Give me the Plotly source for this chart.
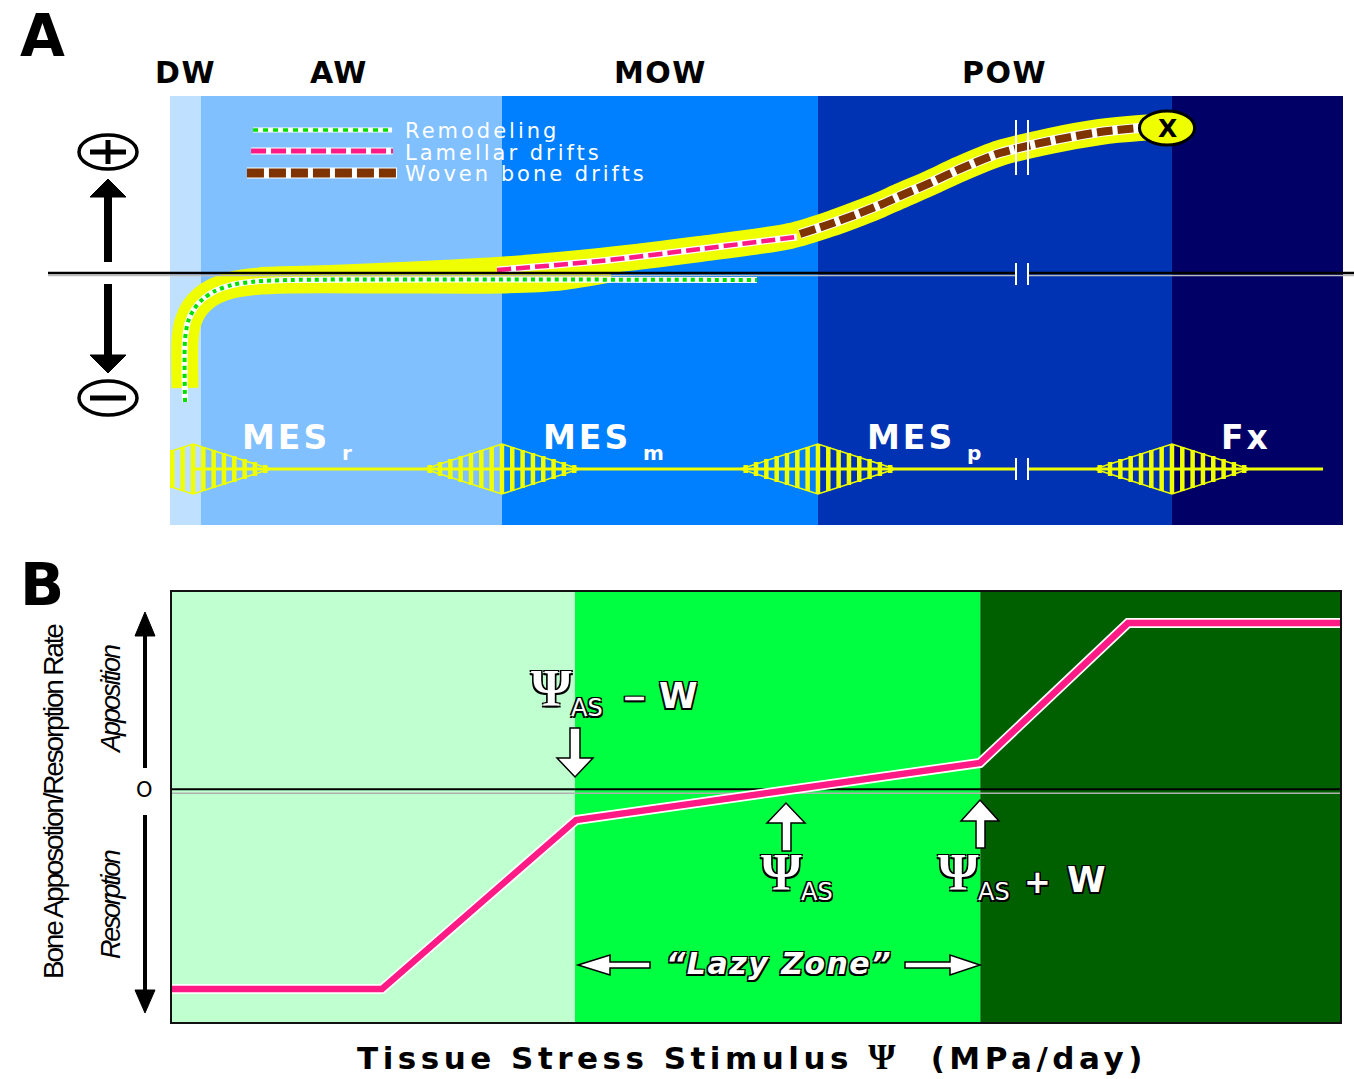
import plotly.graph_objects as go

W, H = 1354, 1079

# ---------------- Panel A: mechanostat windows ----------------
A_ZONE_NAMES = ["DW", "AW", "MOW", "POW"]
A_ZONE_EDGES = [0.0, 2.64, 28.3, 55.24, 85.42, 100.0]
A_ZONE_COLORS = ["#C0E0FF", "#80C0FF", "#0080FF", "#0033B3", "#000066"]

# remodeling branch (net bone change, conservation / disuse)
REMOD_BAND_X = [1.28, 1.28, 1.53, 2.05, 2.81, 3.84, 5.29, 7.25, 10.23, 19.61, 28.13, 33.25, 37.51]
REMOD_BAND_Y = [-1.15, -0.67, -0.49, -0.36, -0.26, -0.18, -0.12, -0.085, -0.07, -0.07, -0.07, -0.04, 0.04]
REMOD_LINE_X = [1.28, 1.28, 1.53, 2.05, 2.81, 3.84, 5.29, 7.25, 10.23, 50.04]
REMOD_LINE_Y = [-1.29, -0.67, -0.49, -0.36, -0.26, -0.18, -0.12, -0.085, -0.07, -0.07]

# modeling-drift branch
DRIFT_X = [7.67, 13.64, 19.61, 27.88, 36.66, 45.18, 52.86, 56.27, 58.82, 60.53, 62.23,
           64.79, 67.35, 70.76, 75.02, 79.28, 82.69, 84.40]
DRIFT_Y = [-0.07, -0.05, -0.02, 0.03, 0.12, 0.24, 0.37, 0.49, 0.60, 0.68, 0.77,
           0.90, 1.04, 1.20, 1.32, 1.41, 1.45, 1.46]
LAMELLAR_X = [27.88, 36.66, 45.18, 53.45]
LAMELLAR_Y = [0.03, 0.12, 0.24, 0.36]
WOVEN_X = [53.71, 56.27, 58.82, 60.53, 62.23, 64.79, 67.35, 70.76, 75.02, 79.28, 82.69]
WOVEN_Y = [0.39, 0.49, 0.60, 0.68, 0.77, 0.90, 1.04, 1.20, 1.32, 1.41, 1.45]
FRACTURE_XY = (85.0, 1.45)

# minimum effective strain bursts
MES_BASE_Y = -1.96
MES_CENTERS = [1.96, 28.3, 55.24, 85.42]
MES_NAMES = ["MES", "MES", "MES", "Fx"]
MES_SUBS = ["r", "m", "p", ""]
BURST_STEP = 0.88
BURST_HALF_HEIGHTS = [0.25, 0.22, 0.19, 0.16, 0.13, 0.10, 0.07, 0.04]
BURST_HALF_WIDTH = 6.6
BREAK_X = (72.04, 73.06)

LEGEND_NAMES = ["Remodeling", "Lamellar drifts", "Woven bone drifts"]

# ---------------- Panel B: apposition / resorption rate ----------------
STIMULUS = [0.0, 17.98, 34.59, 69.18, 81.85, 100.26]
RATE = [-1.199, -1.199, -0.181, 0.163, 1.006, 1.006]
B_ZONE_EDGES = [0.0, 34.5, 69.2, 100.0]
B_ZONE_COLORS = ["#C0FFD0", "#00FF40", "#006000"]

YELLOW = "#F0FF00"
PINK = "#FF1A85"
GREEN = "#00E000"
BROWN = "#7F3300"
OUTLINE = "-1.5px -1.5px 0 #000, 1.5px -1.5px 0 #000, -1.5px 1.5px 0 #000, 1.5px 1.5px 0 #000"


def px(x):
    return x / W


def py(y):
    return 1 - y / H


def poly(points):
    return "M " + " L ".join(f"{px(x):.5f},{py(y):.5f}" for x, y in points) + " Z"


fig = go.Figure()


def line(x, y, color, width, dash="solid", shape="spline", axes=("x", "y")):
    fig.add_trace(go.Scatter(x=x, y=y, mode="lines", xaxis=axes[0], yaxis=axes[1],
                             line=dict(color=color, width=width, dash=dash, shape=shape,
                                       smoothing=0.8),
                             hoverinfo="skip", showlegend=False))


# yellow envelopes
line(REMOD_BAND_X, REMOD_BAND_Y, YELLOW, 27)
line(DRIFT_X, DRIFT_Y, YELLOW, 26)

# MES baseline and bursts
line([MES_CENTERS[0], BREAK_X[0], None, BREAK_X[1], 98.3],
     [MES_BASE_Y, MES_BASE_Y, None, MES_BASE_Y, MES_BASE_Y], YELLOW, 3, shape="linear")
for c in MES_CENTERS:
    bx, by = [], []
    for k, h in enumerate(BURST_HALF_HEIGHTS):
        for s in ([1] if k == 0 else [-1, 1]):
            xo = c + s * k * BURST_STEP
            bx += [xo, xo, None]
            by += [MES_BASE_Y - h, MES_BASE_Y + h, None]
    line(bx, by, YELLOW, 4.5, shape="linear")
    hh = BURST_HALF_HEIGHTS[0]
    line([c - BURST_HALF_WIDTH, c, c + BURST_HALF_WIDTH, c, c - BURST_HALF_WIDTH],
         [MES_BASE_Y, MES_BASE_Y + hh, MES_BASE_Y, MES_BASE_Y - hh, MES_BASE_Y],
         YELLOW, 1.5, shape="linear")

# dashed pathway lines
line(REMOD_LINE_X, REMOD_LINE_Y, "white", 6)
line(REMOD_LINE_X, REMOD_LINE_Y, GREEN, 4, dash="4px,4px")
line(LAMELLAR_X, LAMELLAR_Y, "white", 7)
line(LAMELLAR_X, LAMELLAR_Y, PINK, 4.5, dash="14px,5px")
line(WOVEN_X, WOVEN_Y, "white", 10)
line(WOVEN_X, WOVEN_Y, BROWN, 8, dash="16px,5px")

# legend keys
KEY_Y = [1.43, 1.22, 1.00]
line([7.08, 18.93], [KEY_Y[0]] * 2, "white", 5, shape="linear")
line([7.08, 18.93], [KEY_Y[0]] * 2, GREEN, 3.5, dash="5px,5px", shape="linear")
line([6.91, 19.01], [KEY_Y[1]] * 2, "white", 7, shape="linear")
line([6.91, 19.01], [KEY_Y[1]] * 2, PINK, 5, dash="15px,5px", shape="linear")
line([6.56, 19.35], [KEY_Y[2]] * 2, "white", 11, shape="linear")
line([6.56, 19.35], [KEY_Y[2]] * 2, BROWN, 9, dash="17px,5px", shape="linear")

# panel B rate curve
line(STIMULUS, RATE, "white", 10, shape="linear", axes=("x2", "y2"))
line(STIMULUS, RATE, PINK, 6.5, shape="linear", axes=("x2", "y2"))

shapes = []
for i, col in enumerate(A_ZONE_COLORS):
    shapes.append(dict(type="rect", xref="x", yref="y domain", x0=A_ZONE_EDGES[i],
                       x1=A_ZONE_EDGES[i + 1], y0=0, y1=1, fillcolor=col,
                       line=dict(width=0), layer="below"))
for i, col in enumerate(B_ZONE_COLORS):
    shapes.append(dict(type="rect", xref="x2", yref="y2 domain", x0=B_ZONE_EDGES[i],
                       x1=B_ZONE_EDGES[i + 1], y0=0, y1=1, fillcolor=col,
                       line=dict(width=0), layer="below"))
# panel B zero line
shapes.append(dict(type="line", xref="x2 domain", yref="y2", x0=0, x1=1, y0=-0.02, y1=-0.02,
                   line=dict(color="#B0B0B0", width=1.5), layer="below"))
shapes.append(dict(type="line", xref="x2 domain", yref="y2", x0=0, x1=1, y0=0.005, y1=0.005,
                   line=dict(color="black", width=2), layer="below"))

# panel A zero line with break
for xa, xb in [(48, 1016), (1028, 1354)]:
    shapes.append(dict(type="line", xref="paper", yref="paper", x0=px(xa), x1=px(xb),
                       y0=py(275.5), y1=py(275.5), line=dict(color="#BBBBBB", width=1.5)))
    shapes.append(dict(type="line", xref="paper", yref="paper", x0=px(xa), x1=px(xb),
                       y0=py(273), y1=py(273), line=dict(color="black", width=2.5)))
for bxp in (1016, 1028):
    for y0, y1 in [(120, 175), (263, 285), (458, 480)]:
        shapes.append(dict(type="line", xref="paper", yref="paper", x0=px(bxp), x1=px(bxp),
                           y0=py(y0), y1=py(y1), line=dict(color="white", width=2)))

# fracture marker
fx, fy = FRACTURE_XY
shapes.append(dict(type="circle", xref="x", yref="y", x0=fx - 2.35, x1=fx + 2.35,
                   y0=fy - 0.17, y1=fy + 0.17, fillcolor=YELLOW,
                   line=dict(color="black", width=3)))

# plus / minus symbols with arrows
for cy, sign in [(152, "+"), (398, "-")]:
    shapes.append(dict(type="circle", xref="paper", yref="paper", x0=px(79), x1=px(137),
                       y0=py(cy + 17), y1=py(cy - 17), line=dict(color="black", width=3.5)))
    shapes.append(dict(type="line", xref="paper", yref="paper", x0=px(90), x1=px(126),
                       y0=py(cy), y1=py(cy), line=dict(color="black", width=5)))
    if sign == "+":
        shapes.append(dict(type="line", xref="paper", yref="paper", x0=px(108), x1=px(108),
                           y0=py(cy - 12), y1=py(cy + 12), line=dict(color="black", width=5)))
shapes.append(dict(type="line", xref="paper", yref="paper", x0=px(108), x1=px(108),
                   y0=py(262), y1=py(194), line=dict(color="black", width=8)))
shapes.append(dict(type="path", xref="paper", yref="paper",
                   path=poly([(90, 197), (126, 197), (108, 179)]), fillcolor="black",
                   line=dict(color="black", width=1)))
shapes.append(dict(type="line", xref="paper", yref="paper", x0=px(108), x1=px(108),
                   y0=py(284), y1=py(358), line=dict(color="black", width=8)))
shapes.append(dict(type="path", xref="paper", yref="paper",
                   path=poly([(90, 355), (126, 355), (108, 373)]), fillcolor="black",
                   line=dict(color="black", width=1)))

# panel B axis arrows
shapes.append(dict(type="line", xref="paper", yref="paper", x0=px(145), x1=px(145),
                   y0=py(768), y1=py(632), line=dict(color="black", width=4)))
shapes.append(dict(type="path", xref="paper", yref="paper",
                   path=poly([(135, 636), (155, 636), (145, 612)]), fillcolor="black",
                   line=dict(color="black", width=1)))
shapes.append(dict(type="line", xref="paper", yref="paper", x0=px(145), x1=px(145),
                   y0=py(815), y1=py(992), line=dict(color="black", width=4)))
shapes.append(dict(type="path", xref="paper", yref="paper",
                   path=poly([(135, 990), (155, 990), (145, 1013)]), fillcolor="black",
                   line=dict(color="black", width=1)))

# hollow marker arrows in panel B
HOLLOW = [
    [(570, 728), (580, 728), (580, 758), (593, 758), (575, 777), (557, 758), (570, 758)],
    [(782, 851), (791, 851), (791, 823), (805, 823), (786, 803), (767, 823), (782, 823)],
    [(976, 848), (985, 848), (985, 821), (999, 821), (980, 800), (961, 821), (976, 821)],
    [(578, 965), (610, 955), (610, 962), (650, 962), (650, 968), (610, 968), (610, 975)],
    [(980, 965), (950, 955), (950, 962), (905, 962), (905, 968), (950, 968), (950, 975)],
]
for pts in HOLLOW:
    shapes.append(dict(type="path", xref="paper", yref="paper", path=poly(pts),
                       fillcolor="white", line=dict(color="black", width=1.5)))

ann = []


def label(x, y, text, size, color="black", family="DejaVu Sans", weight="normal",
          style="normal", xanchor="center", spacing=None, angle=0, shadow="none",
          align="center"):
    if spacing is not None:
        text = f'<span style="letter-spacing:{spacing}px">{text}</span>'
    ann.append(dict(x=px(x), y=py(y), xref="paper", yref="paper", text=text,
                    showarrow=False, xanchor=xanchor, yanchor="middle", textangle=angle,
                    align=align,
                    font=dict(size=size, color=color, family=family, weight=weight,
                              style=style, shadow=shadow)))


label(42, 36, "A", 58, weight=900)
label(42, 585, "B", 58, weight=900)
for name, xc in zip(A_ZONE_NAMES, [184, 338, 659, 1004]):
    label(xc + 1, 72, name, 30, weight="bold", spacing=1.5)

# legend captions, one stacked block
legend_text = "<br>".join(
    f'<span style="font-size:21px;letter-spacing:3px">{n}</span>' for n in LEGEND_NAMES)
label(403, 152, legend_text, 16.6, color="white", xanchor="left", align="left")

for name, sub, xl in zip(MES_NAMES, MES_SUBS, [240, 541, 865, 1219]):
    label(xl, 437, name, 33, color="white", weight="bold", xanchor="left", spacing=3)
    if sub:
        label(xl + 100, 453, sub, 20, color="white", weight="bold", xanchor="left")
label(fx * 11.73 + 170, 128, "X", 25, weight="bold")

# panel B labels
label(144, 790, "O", 21)
label(53, 802, "Bone Apposotion/Resorption Rate", 28, family="Liberation Sans",
      angle=-90, spacing=-2.2)
label(111, 700, "Apposition", 27, family="Liberation Sans", style="italic", angle=-90,
      spacing=-2)
label(111, 905, "Resorption", 27, family="Liberation Sans", style="italic", angle=-90,
      spacing=-2.3)

for xpsi, ypsi in [(551, 688), (781, 872), (958, 872)]:
    label(xpsi, ypsi, "Ψ", 52, color="white", family="Liberation Serif", weight="bold",
          shadow=OUTLINE)
    label(xpsi + 36, ypsi + 20, "AS", 24, color="white", shadow=OUTLINE)
label(634, 697, "−", 30, color="white", weight="bold", shadow=OUTLINE)
label(678, 696, "W", 35, color="white", weight="bold", shadow=OUTLINE)
label(1037, 882, "+", 32, color="white", weight="bold", shadow=OUTLINE)
label(1086, 880, "W", 35, color="white", weight="bold", shadow=OUTLINE)
label(779, 963, "“Lazy Zone”", 30, color="white", weight="bold", style="italic",
      spacing=1.5, shadow=OUTLINE)

label(752, 1057,
      'Tissue Stress Stimulus <span style="font-family:Liberation Serif;font-size:35px">Ψ</span>'
      '  (MPa/day)', 31, weight="bold", spacing=4.5)

axis_off = dict(visible=False, fixedrange=True)
fig.update_layout(
    width=W, height=H, margin=dict(l=0, r=0, t=0, b=0),
    paper_bgcolor="white", plot_bgcolor="rgba(0,0,0,0)", showlegend=False,
    xaxis=dict(domain=[170 / W, 1343 / W], range=[0, 100], **axis_off),
    yaxis=dict(domain=[1 - 525 / H, 1 - 96 / H], range=[-2.52, 1.77], **axis_off),
    xaxis2=dict(domain=[172 / W, 1340 / W], range=[0, 100], showline=True, mirror=True,
                linecolor="#111", linewidth=2, showgrid=False, zeroline=False,
                showticklabels=False, ticks="", fixedrange=True, anchor="y2"),
    yaxis2=dict(domain=[1 - 1022 / H, 1 - 592 / H], range=[-1.398, 1.193], showline=True,
                mirror=True, linecolor="#111", linewidth=2, showgrid=False, zeroline=False,
                showticklabels=False, ticks="", fixedrange=True, anchor="x2"),
    shapes=shapes, annotations=ann,
)

fig.write_html("out.html")
